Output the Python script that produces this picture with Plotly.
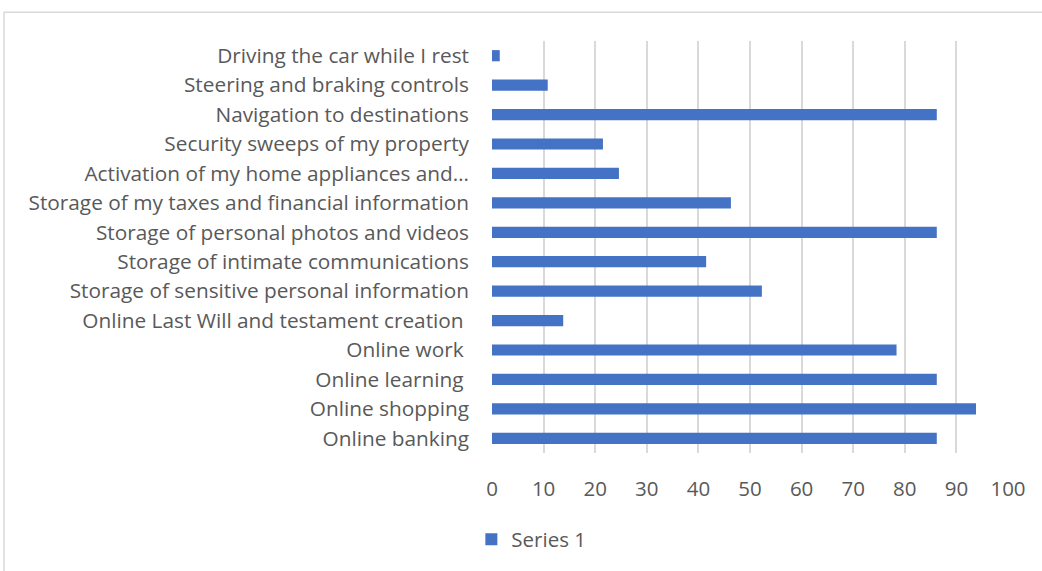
import plotly.graph_objects as go

# Survey items, listed bottom-to-top as they appear on the category axis
categories = [
    "Online banking",
    "Online shopping",
    "Online learning\u00a0",
    "Online work\u00a0",
    "Online Last Will and testament creation\u00a0",
    "Storage of sensitive personal information",
    "Storage of intimate communications",
    "Storage of personal photos and videos",
    "Storage of my taxes and financial information",
    "Activation of my home appliances and…",
    "Security sweeps of my property",
    "Navigation to destinations",
    "Steering and braking controls",
    "Driving the car while I rest",
]
series_1 = [86.2, 93.8, 86.2, 78.4, 13.8, 52.3, 41.5, 86.2, 46.3, 24.6, 21.5, 86.2, 10.8, 1.5]
x_ticks = list(range(0, 101, 10))

FONT = "Open Sans"
BLUE = "#4472C4"
GREY_TXT = "#595959"

fig = go.Figure(
    go.Bar(
        x=series_1,
        y=categories,
        orientation="h",
        name="Series 1",
        marker=dict(color=BLUE, line=dict(width=0)),
    )
)

fig.update_layout(
    width=1042,
    height=571,
    margin=dict(l=492, r=34, t=41, b=115),
    paper_bgcolor="white",
    plot_bgcolor="white",
    bargap=0.62,
    font=dict(family=FONT, size=20.8, color=GREY_TXT),
    showlegend=True,
    legend=dict(
        orientation="h",
        x=-0.04,
        xanchor="left",
        y=-0.21,
        yanchor="middle",
        font=dict(family=FONT, size=20.5, color=GREY_TXT),
        itemwidth=30,
    ),
    xaxis=dict(
        range=[0, 100],
        tickvals=x_ticks,
        showgrid=True,
        gridcolor="#d9d9d9",
        gridwidth=1.5,
        zeroline=False,
        showline=False,
        ticks="",
        tickfont=dict(family=FONT, size=20.5, color=GREY_TXT),
        ticklabelstandoff=21,
        fixedrange=True,
    ),
    yaxis=dict(
        categoryorder="array",
        categoryarray=categories,
        showgrid=False,
        zeroline=False,
        showline=False,
        ticks="",
        tickfont=dict(family=FONT, size=20.8, color=GREY_TXT),
        ticklabelstandoff=22,
        fixedrange=True,
    ),
    shapes=[
        dict(
            type="rect",
            xref="paper",
            yref="paper",
            x0=(4 - 492) / 516,
            x1=(1060 - 492) / 516,
            y0=(456 - 590) / 415,
            y1=(456 - 12) / 415,
            line=dict(color="#d9d9d9", width=1.5),
            fillcolor="rgba(0,0,0,0)",
            layer="below",
        )
    ],
)

fig.write_html("out.html")
